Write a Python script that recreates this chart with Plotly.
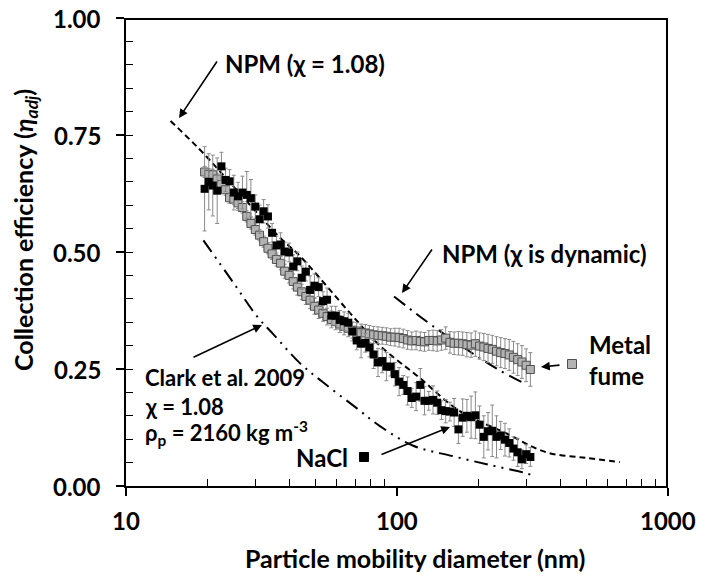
import math
import plotly.graph_objects as go

# ---------------- data ----------------
diam = [19.5, 20.2, 20.9, 21.7, 22.5, 23.3, 24.1, 25.0, 25.9, 26.9,
        27.9, 28.9, 30.0, 31.1, 32.2, 33.4, 34.6, 35.9, 37.2, 38.5,
        40.0, 41.4, 42.9, 44.5, 46.1, 47.8, 49.6, 51.4, 53.3, 55.2,
        57.3, 59.4, 61.5, 63.8, 66.1, 68.5, 71.0, 73.7, 76.4, 79.1,
        82.0, 85.1, 88.2, 91.4, 94.7, 98.2, 101.8, 105.5, 109.4, 113.4,
        117.6, 121.9, 126.3, 131.0, 135.8, 140.7, 145.9, 151.2, 156.8, 162.5,
        168.5, 174.7, 181.1, 187.7, 194.6, 201.7, 209.1, 216.7, 224.7, 232.9,
        241.4, 250.3, 259.5, 269.0, 278.8, 289.0, 299.6, 310.6]

metal_eff = [0.671, 0.666, 0.665, 0.656, 0.644, 0.633, 0.616, 0.613, 0.605, 0.595,
             0.576, 0.561, 0.548, 0.536, 0.522, 0.508, 0.496, 0.484, 0.476, 0.459,
             0.450, 0.437, 0.425, 0.415, 0.405, 0.397, 0.384, 0.376, 0.369, 0.362,
             0.356, 0.351, 0.346, 0.341, 0.337, 0.333, 0.331, 0.328, 0.327, 0.325,
             0.323, 0.322, 0.321, 0.320, 0.318, 0.318, 0.317, 0.315, 0.312, 0.310,
             0.311, 0.309, 0.308, 0.311, 0.311, 0.310, 0.312, 0.316, 0.307, 0.305,
             0.305, 0.304, 0.302, 0.301, 0.304, 0.299, 0.297, 0.294, 0.292, 0.288,
             0.285, 0.283, 0.280, 0.275, 0.270, 0.265, 0.258, 0.249]
metal_err = [0.012, 0.012, 0.012, 0.012, 0.012, 0.012, 0.012, 0.012, 0.012, 0.012,
             0.012, 0.012, 0.012, 0.012, 0.012, 0.012, 0.012, 0.014, 0.014, 0.015,
             0.016, 0.016, 0.017, 0.016, 0.017, 0.018, 0.017, 0.018, 0.017, 0.018,
             0.018, 0.017, 0.018, 0.018, 0.018, 0.017, 0.018, 0.018, 0.018, 0.018,
             0.018, 0.018, 0.018, 0.018, 0.018, 0.019, 0.020, 0.020, 0.020, 0.019,
             0.020, 0.020, 0.020, 0.021, 0.022, 0.022, 0.022, 0.024, 0.023, 0.024,
             0.025, 0.025, 0.026, 0.026, 0.027, 0.028, 0.029, 0.030, 0.030, 0.031,
             0.032, 0.032, 0.033, 0.034, 0.034, 0.035, 0.035, 0.036]

nacl_eff = [0.635, 0.650, 0.642, 0.631, 0.683, 0.654, 0.651, 0.627, 0.619, 0.627,
            0.622, 0.615, 0.597, 0.570, 0.587, 0.576, 0.541, 0.514, 0.516, 0.501,
            0.499, 0.469, 0.480, 0.445, 0.458, 0.419, 0.428, 0.425, 0.395, 0.398,
            0.364, 0.364, 0.355, 0.352, 0.349, 0.330, 0.311, 0.304, 0.306, 0.296,
            0.281, 0.264, 0.267, 0.255, 0.255, 0.239, 0.223, 0.216, 0.203, 0.188,
            0.191, 0.216, 0.182, 0.182, 0.184, 0.178, 0.162, 0.160, 0.159, 0.157,
            0.121, 0.146, 0.150, 0.147, 0.151, 0.131, 0.105, 0.117, 0.118, 0.105,
            0.108, 0.099, 0.092, 0.080, 0.072, 0.057, 0.068, 0.062]
nacl_err = [0.090, 0.060, 0.065, 0.070, 0.030, 0.025, 0.025, 0.037, 0.030, 0.035,
            0.050, 0.040, 0.025, 0.030, 0.025, 0.025, 0.020, 0.020, 0.025, 0.020,
            0.020, 0.025, 0.020, 0.025, 0.020, 0.030, 0.025, 0.020, 0.020, 0.025,
            0.020, 0.020, 0.020, 0.020, 0.020, 0.020, 0.020, 0.030, 0.020, 0.020,
            0.030, 0.030, 0.025, 0.030, 0.020, 0.025, 0.030, 0.020, 0.030, 0.020,
            0.030, 0.035, 0.030, 0.020, 0.030, 0.025, 0.020, 0.025, 0.020, 0.030,
            0.030, 0.040, 0.035, 0.045, 0.050, 0.040, 0.045, 0.040, 0.055, 0.045,
            0.030, 0.035, 0.030, 0.025, 0.030, 0.020, 0.020, 0.020]

npm108_d = [14.6, 17.5, 19.3, 25.0, 37.1, 43.9, 67.0, 86.5, 120.0, 170.6, 250.0, 356.0, 500.0, 664.0]
npm108_eff = [0.780, 0.736, 0.711, 0.639, 0.530, 0.491, 0.370, 0.300, 0.233, 0.160, 0.114, 0.072, 0.060, 0.051]

npmdyn_d = [97.5, 140.0, 230.0, 300.0]
npmdyn_eff = [0.405, 0.336, 0.253, 0.217]

clark_d = [19.3, 25.0, 30.4, 35.0, 43.9, 53.5, 70.0, 86.5, 114.8, 160.0, 220.0, 292.0, 315.0]
clark_eff = [0.525, 0.433, 0.363, 0.324, 0.262, 0.221, 0.169, 0.128, 0.086, 0.064, 0.045, 0.029, 0.023]

x_tickvals = [10, 100, 1000]
x_ticktext = ["10", "100", "1000"]
x_minor = [20, 30, 40, 50, 60, 70, 80, 90, 200, 300, 400, 500, 600, 700, 800, 900]
y_tickvals = [0.0, 0.25, 0.5, 0.75, 1.0]
y_ticktext = ["0.00", "0.25", "0.50", "0.75", "1.00"]

# ---------------- layout helpers ----------------
# page body margin is removed below, so figure pixels == screen pixels
W, H = 704, 580
SL, SR, ST, SB = 126, 668, 18, 486
FONT = "Lato"


def px(xs, ys):
    return (xs - SL) / (SR - SL), (SB - ys) / (SB - ST)


fig = go.Figure()

fig.add_trace(go.Scatter(x=npm108_d, y=npm108_eff, mode="lines", line_shape="spline",
                         line=dict(color="black", width=2, dash="6px,4px"), hoverinfo="skip"))
fig.add_trace(go.Scatter(x=npmdyn_d, y=npmdyn_eff, mode="lines", line_shape="spline",
                         line=dict(color="black", width=2, dash="14px,6px,2px,6px"), hoverinfo="skip"))
fig.add_trace(go.Scatter(x=clark_d, y=clark_eff, mode="lines", line_shape="spline",
                         line=dict(color="black", width=2, dash="14px,6px,2px,6px,2px,6px"), hoverinfo="skip"))

fig.add_trace(go.Scatter(x=diam, y=metal_eff, mode="markers",
                         marker=dict(symbol="square", size=8, color="#b3b3b3",
                                     line=dict(color="#505050", width=1)),
                         error_y=dict(type="data", array=metal_err, color="#8a8a8a",
                                      thickness=1, width=2)))
fig.add_trace(go.Scatter(x=diam, y=nacl_eff, mode="markers",
                         marker=dict(symbol="square", size=8, color="black",
                                     line=dict(color="black", width=0)),
                         error_y=dict(type="data", array=nacl_err, color="#8a8a8a",
                                      thickness=1, width=2)))

annotations = []
BOLD = dict(family=FONT, color="black", weight="bold")


def text(xs, ys, s, xanchor="left", size=24, yanchor="middle", angle=0, align="left"):
    x, y = px(xs, ys)
    annotations.append(dict(x=x, y=y, xref="paper", yref="paper", text=s, showarrow=False,
                            xanchor=xanchor, yanchor=yanchor, textangle=angle, align=align,
                            font=dict(BOLD, size=size)))


def arrow(head, tail):
    x, y = px(*head)
    annotations.append(dict(x=x, y=y, xref="paper", yref="paper", text="", showarrow=True,
                            ax=tail[0] - head[0], ay=tail[1] - head[1],
                            arrowhead=2, arrowsize=1.1, arrowwidth=1.6, arrowcolor="black",
                            standoff=0, startstandoff=0))


# tick labels, placed through the axes' own scales
for v, t in zip(x_tickvals, x_ticktext):
    annotations.append(dict(x=math.log10(v), y=0, xref="x", yref="paper", text=t, showarrow=False,
                            xanchor="center", yanchor="middle", yshift=-34,
                            font=dict(BOLD, size=24)))
for v, t in zip(y_tickvals, y_ticktext):
    annotations.append(dict(x=0, y=v, xref="paper", yref="y", text=t, showarrow=False,
                            xanchor="right", yanchor="middle", xshift=-24, borderpad=0,
                            font=dict(BOLD, size=24)))

text(223, 64, "NPM (χ = 1.08)")
arrow((179, 118), (218, 60))
text(440, 253, "NPM (χ is dynamic)")
arrow((402, 293), (433, 248))
text(587, 360, "Metal<br>fume")
arrow((541, 367), (561, 365))
text(350, 457, "NaCl", xanchor="right")
arrow((450, 427), (380, 455))
text(143, 378, "Clark et al. 2009", size=22)
text(143, 406, "χ = 1.08", size=22)
text(143, 433, "ρ<sub>p</sub> = 2160 kg m<sup>-3</sup>", size=22)
arrow((262, 325), (192, 358))

text(415, 558, "Particle mobility diameter (nm)", xanchor="center", size=25, align="center")
text(25, 230, "Collection efficiency (<i>η</i><sub><i>adj</i></sub>)", xanchor="center", size=25,
     angle=-90, align="center")

# top and right frame lines, drawn just inside the plot box
fy, _ = 0, 0
top_y = 1 - 1.0 / (SB - ST)
right_x = 1 - 1.0 / (SR - SL)
shapes = [
    dict(type="line", xref="paper", yref="paper", x0=0, x1=1, y0=top_y, y1=top_y,
         line=dict(color="black", width=2), layer="above"),
    dict(type="line", xref="paper", yref="paper", x0=right_x, x1=right_x, y0=0, y1=1,
         line=dict(color="black", width=2), layer="above"),
]
for (cx, cy, fill, edge) in [(572, 364, "#b3b3b3", "#505050"), (364, 457, "black", "black")]:
    x0, y0 = px(cx - 4.5, cy + 4.5)
    x1, y1 = px(cx + 4.5, cy - 4.5)
    shapes.append(dict(type="rect", xref="paper", yref="paper", x0=x0, y0=y0, x1=x1, y1=y1,
                       fillcolor=fill, line=dict(color=edge, width=1)))

fig.update_layout(
    template="none",
    width=W, height=H,
    margin=dict(l=SL, r=W - SR, t=ST, b=H - SB, pad=0, autoexpand=False),
    paper_bgcolor="white", plot_bgcolor="white",
    showlegend=False,
    font=dict(family=FONT, size=20, color="black", weight="bold"),
    annotations=annotations,
    shapes=shapes,
    xaxis=dict(type="log", range=[1, 3], tickmode="array", tickvals=x_tickvals, ticktext=x_ticktext,
               showticklabels=False,
               ticks="outside", ticklen=8, tickwidth=1.5, tickcolor="black", automargin=False,
               showline=True, linecolor="black", linewidth=2, mirror=False,
               showgrid=False, zeroline=False,
               minor=dict(tickmode="array", tickvals=x_minor, ticks="inside", ticklen=7,
                          tickwidth=1.2, tickcolor="black", showgrid=False)),
    yaxis=dict(range=[0, 1], tickmode="array", tickvals=y_tickvals, ticktext=y_ticktext,
               showticklabels=False,
               ticks="outside", ticklen=8, tickwidth=1.5, tickcolor="black", automargin=False,
               showline=True, linecolor="black", linewidth=2, mirror=False,
               showgrid=False, zeroline=False,
               minor=dict(dtick=0.05, ticks="inside", ticklen=7, tickwidth=1.2,
                          tickcolor="black", showgrid=False)),
)

fig.write_html("out.html", config={"displayModeBar": False},
               post_script="document.body.style.margin='0px';")
